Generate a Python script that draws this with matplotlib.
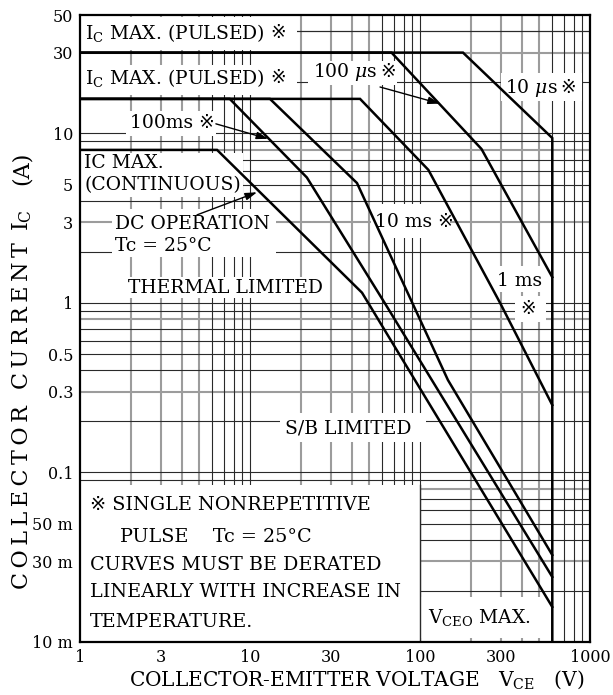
import matplotlib
matplotlib.use('Agg')
import matplotlib.pyplot as plt
from matplotlib.patches import Rectangle

plt.rcParams['font.family'] = ['DejaVu Serif', 'DejaVu Sans', 'Noto Sans CJK JP']
plt.rcParams['mathtext.fontset'] = 'dejavuserif'

# safe operating area curves
vce_dc = [1, 6.4, 45.6, 600]
ic_dc = [8, 8, 1.15, 0.0161]

vce_100ms = [1, 7.6, 21.6, 62, 600]
ic_100ms = [16, 16, 5.5, 1.0, 0.0242]

vce_10ms = [1, 13.1, 42.6, 146, 600]
ic_10ms = [16, 16, 5.1, 0.351, 0.0326]

vce_1ms = [1, 44.4, 112, 296, 600]
ic_1ms = [16, 16, 6.1, 1.0, 0.25]

vce_100us = [1, 68, 230, 600]
ic_100us = [30, 30, 8.1, 1.42]

vce_10us = [1, 179, 600, 600]
ic_10us = [30, 30, 9.4, 0.01]

x_ticks = [1, 3, 10, 30, 100, 300, 1000]
x_labels = ['1', '3', '10', '30', '100', '300', '1000']
y_ticks = [0.01, 0.03, 0.05, 0.1, 0.3, 0.5, 1, 3, 5, 10, 30, 50]
y_labels = ['10 m', '30 m', '50 m', '0.1', '0.3', '0.5', '1', '3', '5', '10', '30', '50']

W, H = 613, 695
fig = plt.figure(figsize=(W / 100, H / 100), dpi=100)
ax = fig.add_axes([80 / W, 1 - 642 / H, 510 / W, 627 / H])
ax.set_xscale('log')
ax.set_yscale('log')
ax.set_xlim(1, 1000)
ax.set_ylim(0.01, 50)

# grid, drawn by hand so some lines come out grey and some black
gray = dict(color='#9c9c9c', lw=1.5, zorder=0.5)
dark = dict(color='#2a2a2a', lw=0.8, zorder=0.6)
for dec in [1, 10, 100]:
    for m in range(1, 10):
        v = dec * m
        if v <= 1 or v >= 1000:
            continue
        ax.axvline(v, **(gray if m in (2, 3, 4, 5) else dark))
for dec in [0.01, 0.1, 1, 10]:
    for m in range(1, 10):
        v = dec * m
        if v <= 0.01 or v >= 50:
            continue
        ax.axhline(v, **(gray if m in (3, 8) else dark))
ax.axhline(40, **dark)


def white_box(x0, x1, y0, y1):
    ax.add_patch(Rectangle((x0, y0), x1 - x0, y1 - y0, facecolor='white',
                           edgecolor='none', zorder=2))


white_box(1, 18.9, 31.1, 48.7)
white_box(1, 18.9, 16.9, 25.4)
white_box(1.865, 6.31, 9.67, 13.6)
white_box(1, 9.1, 4.22, 7.67)
white_box(1.54, 14.2, 1.87, 3.59)
white_box(1.79, 28.8, 1.07, 1.42)
white_box(21.9, 73.2, 19.3, 26.8)
white_box(300, 897, 15.6, 22.7)
white_box(51.5, 150, 2.42, 3.84)
white_box(265, 544, 1.16, 1.65)
white_box(362, 551, 0.773, 1.10)
white_box(15.0, 108, 0.151, 0.224)
white_box(1, 100, 0.01, 0.0843)
white_box(100, 566, 0.0105, 0.0184)
ax.plot([100, 100], [0.01, 0.0843], color='#2a2a2a', lw=1.0, zorder=2.5)

curve = dict(color='black', lw=1.8, zorder=3, solid_joinstyle='miter')
ax.plot(vce_dc, ic_dc, **curve)
ax.plot(vce_100ms, ic_100ms, **curve)
ax.plot(vce_10ms, ic_10ms, **curve)
ax.plot(vce_1ms, ic_1ms, **curve)
ax.plot(vce_100us, ic_100us, **curve)
ax.plot(vce_10us, ic_10us, **curve)

fs = 13.5
txt = dict(fontsize=fs, va='center', ha='left', zorder=4)


def mark_after(t, gap=4):
    # the reference mark is missing from the mathtext font, so set it apart
    ax.annotate('※', xy=(1, 0.5), xycoords=t, xytext=(gap, 0),
                textcoords='offset points', fontsize=fs, va='center',
                ha='left', zorder=4)


t1 = ax.text(1.07, 39.2, r'$\mathrm{I_C}$ MAX. (PULSED)', **txt)
mark_after(t1)
t2 = ax.text(1.07, 21.3, r'$\mathrm{I_C}$ MAX. (PULSED)', **txt)
mark_after(t2)
ax.text(1.97, 11.5, '100ms ※', **txt)
ax.text(1.056, 6.7, 'IC MAX.', **txt)
ax.text(1.056, 4.97, '(CONTINUOUS)', **txt)
ax.text(1.61, 2.92, 'DC OPERATION', **txt)
ax.text(1.61, 2.17, 'Tc = 25°C', **txt)
ax.text(1.92, 1.225, 'THERMAL LIMITED', **txt)
t3 = ax.text(23.5, 23.1, r'100 $\mu$s', **txt)
mark_after(t3, 2)
t4 = ax.text(316, 18.6, r'10 $\mu$s', **txt)
mark_after(t4, 2)
ax.text(54.4, 3.0, '10 ms ※', **txt)
ax.text(284, 1.35, '1 ms', **txt)
ax.text(432, 0.923, '※', fontsize=fs, va='center', ha='center', zorder=4)
ax.text(16.1, 0.183, 'S/B LIMITED', **txt)
ax.text(111, 0.0140, r'$\mathrm{V_{CEO}}$ MAX.', **txt)

note = dict(fontsize=13.8, va='center', ha='left', zorder=4)
ax.text(1.145, 0.0643, '※ SINGLE NONREPETITIVE', **note)
ax.text(1.72, 0.0416, 'PULSE    Tc = 25°C', **note)
ax.text(1.145, 0.0284, 'CURVES MUST BE DERATED', **note)
ax.text(1.145, 0.0197, 'LINEARLY WITH INCREASE IN', **note)
ax.text(1.145, 0.0131, 'TEMPERATURE.', **note)

arrow = dict(arrowstyle='-|>,head_length=0.7,head_width=0.22', color='black',
             lw=1.0, shrinkA=0, shrinkB=0)
ax.annotate('', xy=(12.8, 9.3), xytext=(6.3, 11.4), arrowprops=arrow, zorder=4)
ax.annotate('', xy=(11.0, 4.5), xytext=(4.88, 3.31), arrowprops=arrow, zorder=4)
ax.annotate('', xy=(131, 15.0), xytext=(58.2, 18.8), arrowprops=arrow, zorder=4)

ax.set_xticks(x_ticks)
ax.set_xticklabels(x_labels)
ax.set_yticks(y_ticks)
ax.set_yticklabels(y_labels)
ax.minorticks_off()
ax.tick_params(length=0, labelsize=11.5, pad=5)
for s in ax.spines.values():
    s.set_linewidth(1.6)
    s.set_zorder(5)

fig.text(357 / W, 1 - 680 / H, r'COLLECTOR-EMITTER VOLTAGE   $\mathrm{V_{CE}}$   (V)',
         fontsize=14.5, ha='center', va='center')

# y label in three pieces; the printed one is letter-spaced
ylab = dict(fontsize=16, ha='center', va='center', rotation=90)
fig.text(22 / W, 1 - 416 / H, '\u2009'.join('COLLECTOR CURRENT'), **ylab)
fig.text(22 / W, 1 - 220 / H, r'$\mathrm{I_C}$', **ylab)
fig.text(22 / W, 1 - 168 / H, '(A)', **ylab)

fig.savefig('out.png', dpi=100, facecolor='white')
